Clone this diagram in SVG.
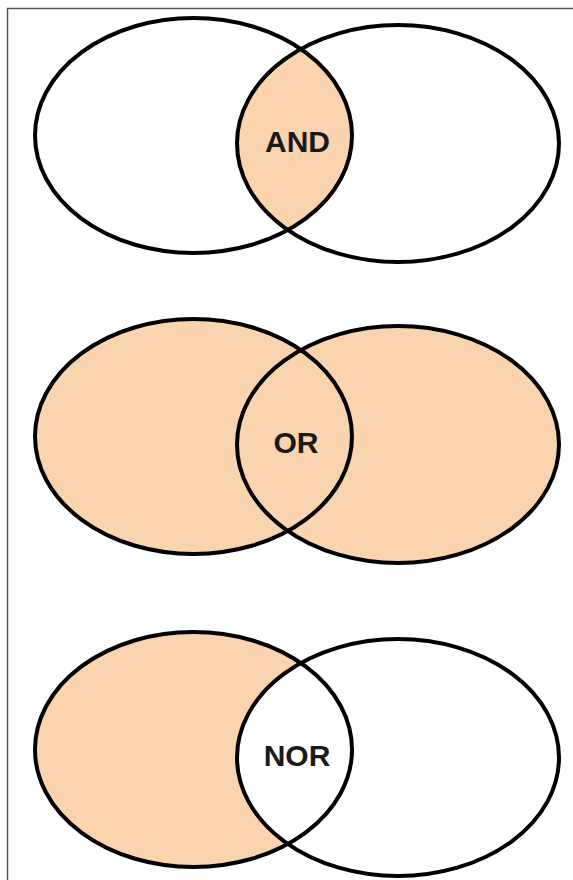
<svg xmlns="http://www.w3.org/2000/svg" xmlns:xlink="http://www.w3.org/1999/xlink" width="573" height="880" viewBox="0 0 573 880">
  <style>
    .frame { fill: none; stroke: #555; stroke-width: 1.5; }
    .ring { fill: none; stroke: #000; stroke-width: 4; }
    .peach { fill: #FAD3AF; stroke: none; }
    .blank { fill: #fff; stroke: none; }
    .label { font-family: "Liberation Sans", Arial, sans-serif; font-weight: bold; font-size: 30px; fill: #1a1a1a; text-anchor: middle; }
  </style>
  <defs>
    <!-- the two sets of every diagram -->
    <ellipse id="setA" cx="193.5" cy="135.5" rx="158.5" ry="117.5"/>
    <ellipse id="setB" cx="398" cy="143.5" rx="161" ry="118.5"/>
    <clipPath id="insideA" clipPathUnits="userSpaceOnUse">
      <ellipse cx="193.5" cy="135.5" rx="158.5" ry="117.5"/>
    </clipPath>
  </defs>

  <rect width="573" height="880" fill="#fff"/>
  <rect class="frame" x="7.5" y="8.5" width="580" height="890"/>

  <!-- intersection -->
  <g id="and-diagram">
    <use xlink:href="#setB" class="peach" clip-path="url(#insideA)"/>
    <use xlink:href="#setA" class="ring"/>
    <use xlink:href="#setB" class="ring"/>
    <text class="label" x="297.5" y="152">AND</text>
  </g>

  <!-- union -->
  <g id="or-diagram" transform="translate(0,301)">
    <use xlink:href="#setA" class="peach"/>
    <use xlink:href="#setB" class="peach"/>
    <use xlink:href="#setA" class="ring"/>
    <use xlink:href="#setB" class="ring"/>
    <text class="label" x="296" y="152">OR</text>
  </g>

  <!-- first set without the overlap -->
  <g id="nor-diagram" transform="translate(0,614)">
    <use xlink:href="#setA" class="peach"/>
    <use xlink:href="#setB" class="blank" clip-path="url(#insideA)"/>
    <use xlink:href="#setA" class="ring"/>
    <use xlink:href="#setB" class="ring"/>
    <text class="label" x="297" y="152">NOR</text>
  </g>
</svg>
